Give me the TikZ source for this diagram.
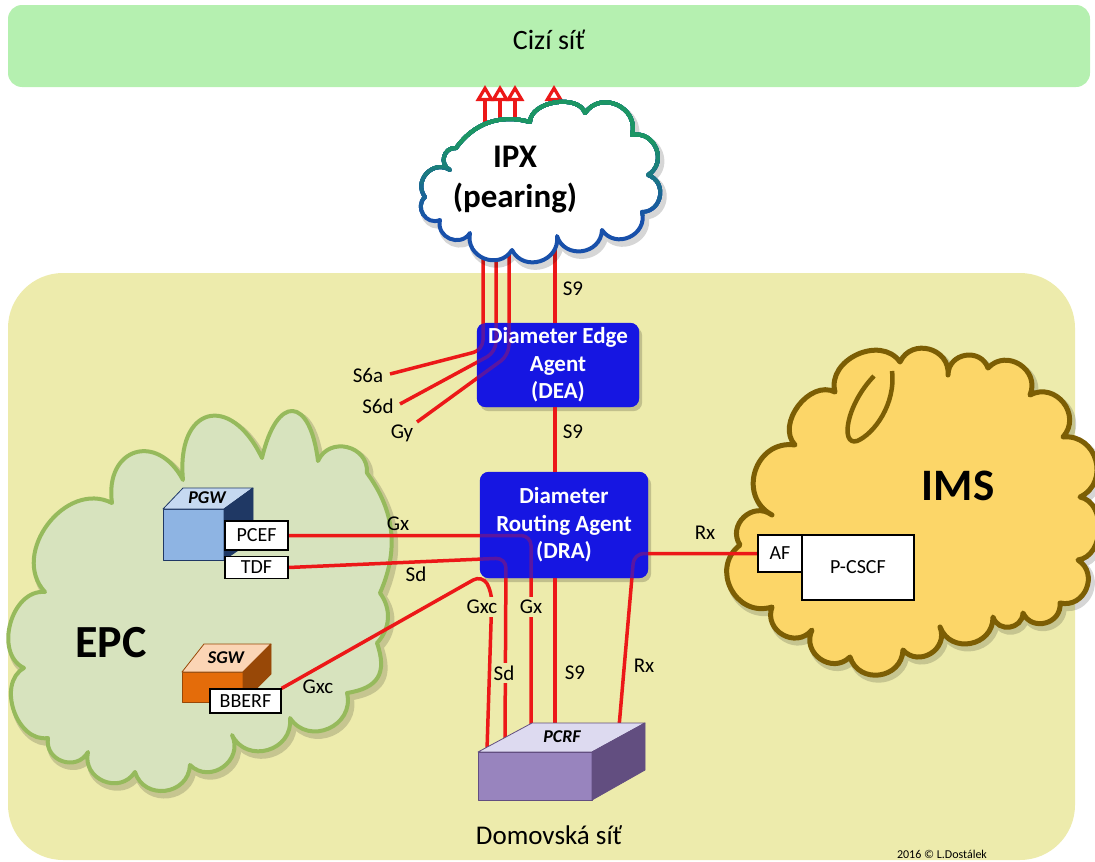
\documentclass[tikz,border=0pt]{standalone}
\usepackage{fontspec}
\setmainfont{Carlito}
\usetikzlibrary{arrows.meta}

\definecolor{bandgreen}{RGB}{181,240,176}
\definecolor{homeyellow}{RGB}{237,235,172}
\definecolor{epcfill}{RGB}{215,227,190}
\definecolor{epcline}{RGB}{150,186,92}
\definecolor{imsfill}{RGB}{252,214,104}
\definecolor{imsline}{RGB}{124,94,4}
\definecolor{ipxgreen}{RGB}{28,150,100}
\definecolor{ipxblue}{RGB}{24,80,170}
\definecolor{linkred}{RGB}{236,24,24}
\definecolor{agentblue}{RGB}{22,22,226}
\definecolor{pgwfront}{RGB}{142,180,227}
\definecolor{pgwtop}{RGB}{198,217,241}
\definecolor{pgwside}{RGB}{31,56,100}
\definecolor{sgwfront}{RGB}{228,108,10}
\definecolor{sgwtop}{RGB}{251,213,181}
\definecolor{sgwside}{RGB}{152,72,7}
\definecolor{pcrftop}{RGB}{221,218,240}
\definecolor{pcrffront}{RGB}{152,132,190}
\definecolor{pcrfside}{RGB}{98,78,128}

\pgfdeclarelayer{back}
\pgfdeclarelayer{wires}
\pgfsetlayers{back,wires,main}

% cloud outlines (valley points, bumps bulge outwards)
\newcommand\ipxoutline{(425,197) to[puff] (450,170) to[puff] (456,148) to[puff,bend left=35,looseness=1] (530,122) to[puff,looseness=0.95] (585,113) to[puff] (632,135) to[puff] (648,175) to[puff] (642,212) to[puff] (602,230) to[puff] (557,236) to[puff] (512,250) to[puff] (470,233) to[puff] (440,220) to[puff] (425,197) -- cycle}
\newcommand\epcoutline{(45,592) to[puff,looseness=1.2] (112,503) to[puff,looseness=1.9] (183,480) to[puff,looseness=2.3] (262,458) to[puff,looseness=3] (318,461) to[puff] (367,473) to[puff,bend left=30,looseness=1] (380,593) to[puff,bend left=40,looseness=1] (377,643) to[puff,bend left=50] (347,693) to[puff] (290,718) to[puff] (232,735) to[puff] (190,765) to[puff] (135,772) to[puff] (88,752) to[puff] (48,738) to[puff,looseness=1.1] (24,668) to[puff,looseness=1.1] (45,592) -- cycle}
\newcommand\imsoutline{(740,545) to[puff] (772,515) to[puff] (795,445) to[puff,looseness=1.1] (835,392) to[puff,looseness=1.2] (900,362) to[puff] (948,375) to[puff] (988,368) to[puff] (1030,395) to[puff] (1063,437) to[puff] (1080,497) to[puff,looseness=1.1] (1078,560) to[puff] (1060,603) to[puff] (1023,613) to[puff] (993,617) to[puff] (940,627) to[puff] (903,650) to[puff] (850,657) to[puff] (812,630) to[puff] (772,607) to[puff] (740,545) -- cycle}

\begin{document}
\begin{tikzpicture}[x=1pt, y=-1pt,
  puff/.style={bend left=80, looseness=1.4},
  link/.style={draw=linkred, line width=3.5pt, rounded corners=10pt},
  uplink/.style={draw=linkred, line width=3.2pt, -{Triangle[open, length=16pt, width=18pt]}},
  agentfont/.style={font=\fontsize{23}{27.5}\selectfont\bfseries},
  agent/.style={fill=agentblue, fill opacity=0.68, text opacity=1, text=white, rounded corners=9pt, inner sep=0pt, align=center, agentfont},
  func/.style={draw=black, line width=1.2pt, fill=white, inner sep=0pt, font=\fontsize{20}{23}\selectfont},
  iflabel/.style={inner sep=1pt, font=\fontsize{21}{24}\selectfont},
  gaplabel/.style={iflabel, fill=homeyellow, inner ysep=3pt},
  boxtitle/.style={inner sep=0pt, font=\fontsize{18}{20}\selectfont\bfseries\itshape},
  cube/.style={line width=0.8pt, line join=round},
  shade/.style={draw=black, draw opacity=0.16, line width=7pt, line join=round, shift={(3,4)}},
]
\useasboundingbox (0,0) rectangle (1095,862);

\begin{pgfonlayer}{back}
  % foreign network band and home network area
  \fill[bandgreen, rounded corners=14pt] (8,5) rectangle (1090,87);
  \fill[homeyellow, rounded corners=55pt] (8,273) rectangle (1075,860);
  % EPC cloud
  \draw[shade] \epcoutline;
  \draw[epcline, fill=epcfill, line width=4pt, line join=round] \epcoutline;
  % IMS cloud with its curl
  \draw[shade] \imsoutline;
  \draw[imsline, fill=imsfill, line width=5pt, line join=round] \imsoutline;
  \draw[imsline, fill=imsfill, line width=4.5pt, line join=round] (874,376) .. controls (846,405) and (840,446) .. (857,441) .. controls (874,434) and (896,404) .. (892,371);
  % PGW cube
  \filldraw[cube, fill=pgwfront, draw=pgwside] (163,509) rectangle (224,560);
  \filldraw[cube, fill=pgwtop, draw=pgwside] (163,509) -- (183,488) -- (253,488) -- (224,509) -- cycle;
  \filldraw[cube, fill=pgwside, draw=pgwside] (224,509) -- (253,488) -- (253,540) -- (224,560) -- cycle;
  % SGW cube
  \filldraw[cube, fill=sgwfront, draw=sgwside] (182,672) rectangle (243,702);
  \filldraw[cube, fill=sgwtop, draw=sgwside] (182,672) -- (204,644) -- (271,644) -- (243,672) -- cycle;
  \filldraw[cube, fill=sgwside, draw=sgwside] (243,672) -- (271,644) -- (271,674) -- (243,702) -- cycle;
\end{pgfonlayer}

\node[boxtitle] (pgw) at (207,498) {PGW};
\node[boxtitle] (sgw) at (226,658) {SGW};

% network functions
\node[func, minimum width=63pt, minimum height=29pt] (pcef) at (256.5,535.5) {PCEF};
\node[func, minimum width=63pt, minimum height=22pt] (tdf) at (256.5,567.5) {TDF};
\node[func, minimum width=71pt, minimum height=24pt] (bberf) at (245.5,701) {BBERF};
\node[func, minimum width=44pt, minimum height=37pt] (af) at (780,553.5) {AF};
\node[func, minimum width=112pt, minimum height=65pt] (pcscf) at (858,567.5) {P-CSCF};

% Diameter agents: translucent top layer over an opaque base, so the
% links running through them show dimly
\node[agent, minimum width=162pt, minimum height=84pt] (dea) at (558,365) {Diameter Edge\\Agent\\(DEA)};
\node[agent, minimum width=168pt, minimum height=106pt] (dra) at (564,525) {Diameter\\Routing Agent\\(DRA)};
\begin{pgfonlayer}{back}
  \fill[black, opacity=0.18, rounded corners=9pt] ([shift={(3,4)}]dea.north west) rectangle ([shift={(3,4)}]dea.south east);
  \fill[black, opacity=0.18, rounded corners=9pt] ([shift={(3,4)}]dra.north west) rectangle ([shift={(3,4)}]dra.south east);
  \fill[agentblue, rounded corners=9pt] (dea.north west) rectangle (dea.south east);
  \fill[agentblue, rounded corners=9pt] (dra.north west) rectangle (dra.south east);
\end{pgfonlayer}

% PCRF block
\filldraw[cube, fill=pcrftop, draw=pcrfside] (478,752) -- (532,723) -- (645,723) -- (592,752) -- cycle;
\filldraw[cube, fill=pcrffront, draw=pcrfside] (478,752) rectangle (592,800);
\filldraw[cube, fill=pcrfside, draw=pcrfside] (592,752) -- (645,723) -- (645,770) -- (592,800) -- cycle;
\node[boxtitle] (pcrf) at (562,737) {PCRF};

% connector end points
\coordinate (ipxA) at (483,235);
\coordinate (ipxB) at (496,235);
\coordinate (ipxC) at (509,235);
\coordinate (ipxS9) at (555,235);
\coordinate (ipxUpA) at (485,150);
\coordinate (ipxUpB) at (500,150);
\coordinate (ipxUpC) at (515,150);
\coordinate (ipxUpS9) at (554,150);
\coordinate (abroadA) at (485,85);
\coordinate (abroadB) at (500,85);
\coordinate (abroadC) at (515,85);
\coordinate (abroadS9) at (554,85);
\coordinate (s6aEnd) at (390,374);
\coordinate (s6dEnd) at (400,404);
\coordinate (gyEnd) at (417,422);
\coordinate (pcrfGxc) at (487,750);
\coordinate (pcrfSd) at (505,740);
\coordinate (pcrfGx) at (531,727);
\coordinate (pcrfS9) at (555,727);
\coordinate (pcrfRx) at (619,727);

\begin{pgfonlayer}{wires}
  % towards the foreign network
  \draw[uplink] (ipxUpA) -- (abroadA);
  \draw[uplink] (ipxUpB) -- (abroadB);
  \draw[uplink] (ipxUpC) -- (abroadC);
  \draw[uplink] (ipxUpS9) -- (abroadS9);
  % S6a, S6d, Gy through the DEA
  \draw[link] (ipxA) -- (483,350) -- (s6aEnd);
  \draw[link] (ipxB) -- (496,352) -- (s6dEnd);
  \draw[link] (ipxC) -- (509,355) -- (gyEnd);
  % S9 chain
  \draw[link] (ipxS9) -- (ipxS9 |- dea.north);
  \draw[link] (ipxS9 |- dea.south) -- (ipxS9 |- dra.north);
  \draw[link] (ipxS9 |- dra.south) -- (pcrfS9);
  % Gx, Sd, Gxc, Rx via the DRA
  \draw[link] (pcef.east) -- (pcef.east -| pcrfGx) -- (pcrfGx);
  \draw[link] (tdf.east) -- (506,558) -- (pcrfSd);
  \draw[link] (bberf.north east) -- (482,575) -- (492,592) -- (pcrfGxc);
  \draw[link] (af.west) -- (634,553.5) -- (pcrfRx);
  % IPX cloud, outline fading from blue (bottom) to green (top)
  \draw[shade] \ipxoutline;
  \draw[ipxblue, fill=white, line width=4pt, line join=round] \ipxoutline;
  \foreach \i in {0,...,9} {
    \pgfmathsetmacro\ycut{215-\i*8}
    \pgfmathtruncatemacro\mix{(\i+1)*10}
    \begin{scope}
      \clip (0,0) rectangle (1095,\ycut);
      \draw[ipxgreen!\mix!ipxblue, line width=4pt, line join=round] \ipxoutline;
    \end{scope}
  }
\end{pgfonlayer}

\node[inner sep=0pt, align=center, font=\fontsize{33}{40}\selectfont\bfseries] (ipx) at (515,180) {IPX\\(pearing)};
\node[inner sep=0pt, font=\fontsize{46}{50}\selectfont\bfseries] (epc) at (111,643) {EPC};
\node[inner sep=0pt, font=\fontsize{45}{50}\selectfont\bfseries] (ims) at (958,486) {IMS};
\node[inner sep=0pt, font=\fontsize{28}{32}\selectfont] (foreign) at (549,40) {Cizí síť};
\node[inner sep=0pt, font=\fontsize{27}{32}\selectfont] (home) at (549,835) {Domovská síť};
\node[inner sep=0pt, font=\fontsize{12}{14}\selectfont] (author) at (942,854) {2016 © L.Dostálek};

% interface labels
\node[iflabel] (lS9top) at (573,289) {S9};
\node[iflabel] (lS9mid) at (573,432) {S9};
\node[iflabel] (lS9low) at (575,673) {S9};
\node[iflabel] (lS6a) at (368,375) {S6a};
\node[iflabel] (lS6d) at (378,406) {S6d};
\node[iflabel] (lGy) at (402,433) {Gy};
\node[iflabel] (lGx) at (398,524) {Gx};
\node[iflabel] (lSd) at (416,574) {Sd};
\node[iflabel] (lGxcL) at (318,687) {Gxc};
\node[gaplabel] (lGxcV) at (482,607) {Gxc};
\node[gaplabel] (lGxV) at (531,607) {Gx};
\node[gaplabel] (lSdV) at (504,673) {Sd};
\node[iflabel] (lRxH) at (705,533) {Rx};
\node[iflabel] (lRxV) at (644,666) {Rx};
\end{tikzpicture}
\end{document}
